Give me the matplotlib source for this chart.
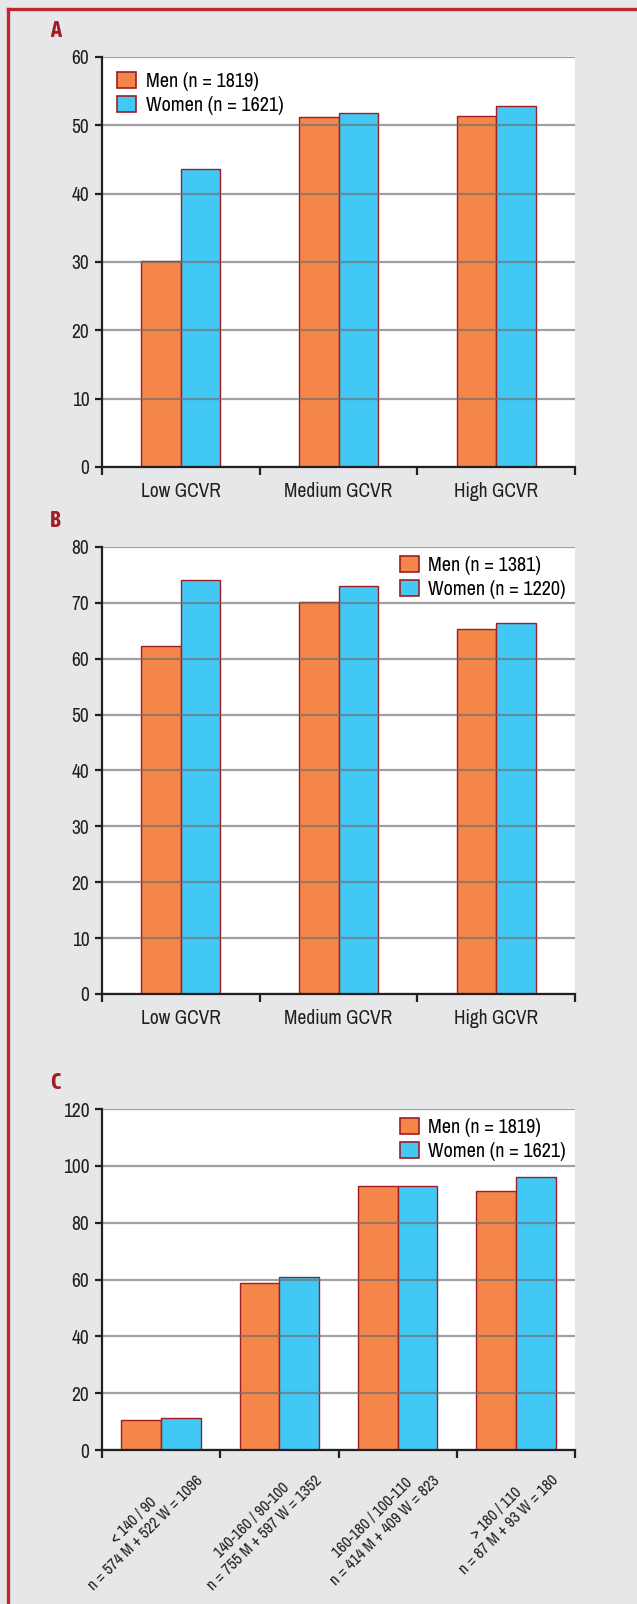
import numpy as np
import matplotlib
matplotlib.use('Agg')
import matplotlib.pyplot as plt
from matplotlib.lines import Line2D
from matplotlib.patches import Patch
from matplotlib import transforms, font_manager

# pick a condensed face if one is installed, preferring one with a bold weight
ttf = font_manager.fontManager.ttflist
narrow = sorted({f.name for f in ttf if 'Narrow' in f.name or 'Condensed' in f.name})
bold_ok = [n for n in narrow
           if any(f.name == n and (f.weight in ('bold', 'heavy', 'black') or
                  (isinstance(f.weight, int) and f.weight >= 600)) for f in ttf)]
if narrow:
    main_font = narrow[0]
    plt.rcParams['font.family'] = [main_font, 'DejaVu Sans']
    letter_font = bold_ok[0] if bold_ok else 'Liberation Sans'
    fs = 14
else:
    plt.rcParams['font.family'] = ['Liberation Sans', 'DejaVu Sans']
    letter_font = 'Liberation Sans'
    fs = 12.5

# Panel A
catsA = ['Low GCVR', 'Medium GCVR', 'High GCVR']
menA = [30.2, 51.2, 51.4]
womenA = [43.6, 51.8, 52.8]
# Panel B
catsB = ['Low GCVR', 'Medium GCVR', 'High GCVR']
menB = [62.2, 70.1, 65.3]
womenB = [74.0, 73.0, 66.4]
# Panel C
catsC = ['< 140 / 90\nn = 574 M + 522 W = 1096',
         '140-160 / 90-100\nn = 755 M + 597 W = 1352',
         '160-180 / 100-110\nn = 414 M + 409 W = 823',
         '> 180 / 110\nn = 87 M + 93 W = 180']
menC = [10.5, 58.8, 92.8, 91.3]
womenC = [11.2, 61.0, 92.8, 95.9]

legA = ['Men (n = 1819)', 'Women (n = 1621)']
legB = ['Men (n = 1381)', 'Women (n = 1220)']
legC = ['Men (n = 1819)', 'Women (n = 1621)']

orange = '#f5864a'
cyan = '#41c8f4'
edge = '#9e1c22'
red = '#c1272d'
bg = '#e6e7e9'
ink = '#231f20'

fig = plt.figure(figsize=(6.37, 16.04), dpi=100, facecolor=bg)

def panel(rect, cats, men, women, ymax, ystep, width, leg, legloc, axpad, letter, rotated=False):
    ax = fig.add_axes(rect)
    ax.set_facecolor('white')
    x = np.arange(len(cats))
    ax.bar(x - width / 2, men, width, color=orange, edgecolor=edge, linewidth=1.0, zorder=2)
    ax.bar(x + width / 2, women, width, color=cyan, edgecolor=edge, linewidth=1.0, zorder=2)
    ax.set_xlim(-0.5, len(cats) - 0.5)
    ax.set_ylim(0, ymax)
    ax.set_yticks(np.arange(0, ymax + 1, ystep))
    ax.yaxis.grid(True, color='#6d6e71', linewidth=1.6, alpha=0.65, zorder=3)
    ax.set_axisbelow(False)
    for s in ['top', 'right']:
        ax.spines[s].set_visible(False)
    for s in ['left', 'bottom']:
        ax.spines[s].set_linewidth(1.6)
        ax.spines[s].set_color(ink)
        ax.spines[s].set_zorder(4)
    ax.set_xticks(np.arange(len(cats) + 1) - 0.5)
    ax.set_xticklabels([])
    ax.set_xticks(x, minor=True)
    ax.tick_params(axis='x', which='major', length=6, width=1.6, color=ink)
    ax.tick_params(axis='x', which='minor', length=0, labelsize=fs, colors=ink, pad=11)
    ax.tick_params(axis='y', length=5, width=1.6, color=ink, labelsize=fs, labelcolor=ink, pad=4)
    if rotated:
        ax.set_xticklabels(cats, minor=True, rotation=45, ha='right', va='top',
                           rotation_mode='anchor', multialignment='center', fontsize=fs - 2.5)
        off = transforms.ScaledTranslation(0.22, 0.05, fig.dpi_scale_trans)
        for lab in ax.get_xticklabels(minor=True):
            lab.set_transform(lab.get_transform() + off)
    else:
        ax.set_xticklabels(cats, minor=True)
    handles = [Patch(facecolor=orange, edgecolor=edge, linewidth=1.2),
               Patch(facecolor=cyan, edgecolor=edge, linewidth=1.2)]
    lg = ax.legend(handles, leg, loc=legloc, frameon=False, fontsize=fs + 0.5,
                   handlelength=0.95, handleheight=0.85, handletextpad=0.46,
                   labelspacing=0.24, borderaxespad=axpad, borderpad=0.3)
    lg.set_zorder(5)
    pos = ax.get_position()
    fig.text(50 / 637, pos.y1 + 15 / 1604, letter, fontsize=16, fontweight='bold',
             family=[letter_font, 'DejaVu Sans'], color='#a01e24', ha='left', va='bottom')
    return ax

panel([102 / 637, 0.7089, 473 / 637, 0.2556], catsA, menA, womenA, 60, 10, 0.25,
      legA, 'upper left', 0.45, 'A')
panel([102 / 637, 0.3803, 473 / 637, 0.2787], catsB, menB, womenB, 80, 10, 0.25,
      legB, 'upper right', 0.15, 'B')
panel([102 / 637, 0.0960, 473 / 637, 0.2126], catsC, menC, womenC, 120, 20, 0.337,
      legC, 'upper right', 0.15, 'C', rotated=True)

# red frame (left and top only)
fig.add_artist(Line2D([7.5 / 637, 7.5 / 637], [0, 1 - 9 / 1604], color=red, linewidth=2.4,
                      transform=fig.transFigure))
fig.add_artist(Line2D([7.5 / 637, 1], [1 - 9 / 1604, 1 - 9 / 1604], color=red, linewidth=2.4,
                      transform=fig.transFigure))

fig.savefig('out.png', dpi=100, facecolor=bg)
